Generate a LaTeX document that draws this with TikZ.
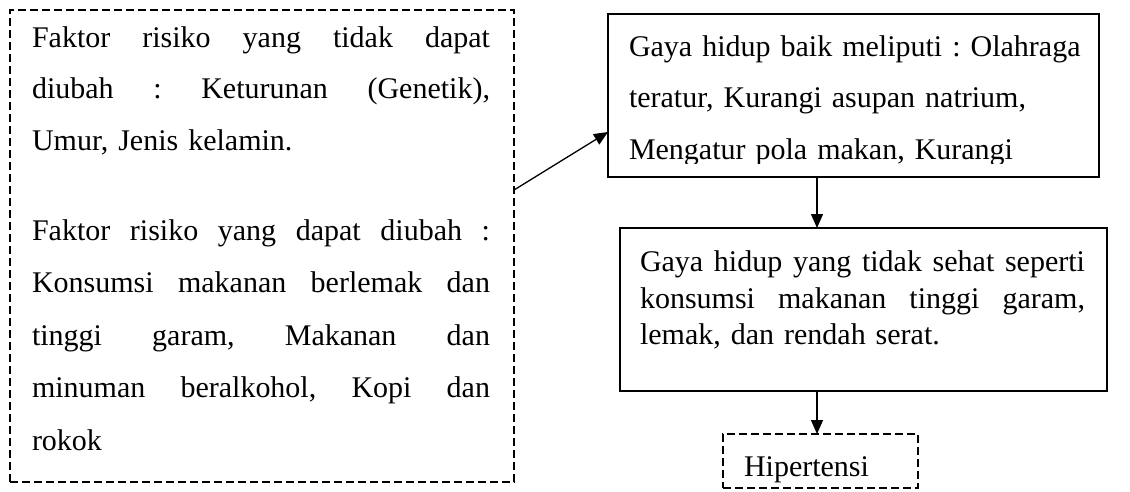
\documentclass[tikz,border=0pt]{standalone}
\usepackage{fontspec}
\setmainfont{Liberation Serif}
\usetikzlibrary{arrows.meta}
\newcommand{\jl}[2]{\makebox[#1][s]{\frenchspacing\spaceskip=\fontdimen2\font plus 1fil\relax #2}}
\newcommand{\fontA}{\fontsize{30}{52.5}\selectfont\parindent=0pt\frenchspacing}
\newcommand{\fontC}{\fontsize{30}{51.75}\selectfont\parindent=0pt\frenchspacing}
\newcommand{\fontB}{\fontsize{30}{36.5}\selectfont\parindent=0pt\frenchspacing}
\begin{document}
\frenchspacing
\begin{tikzpicture}[x=1pt,y=-1pt,
  dbox/.style={draw, dash pattern=on 8pt off 4pt, line width=2pt, inner sep=0pt, outer sep=0pt, anchor=north west},
  sbox/.style={draw, line width=2.5pt, inner sep=0pt, outer sep=0pt, anchor=north west},
  txt/.style={inner sep=0pt, outer sep=0pt, anchor=base west, align=left},
  arr/.style={line width=1.3pt, -{Triangle[length=14pt,width=12pt]}}]
\useasboundingbox (0,0) rectangle (1130,491);

% boxes
\node[dbox, minimum width=504pt, minimum height=472pt] (b1) at (10,10) {};
\node[sbox, minimum width=491pt, minimum height=163pt] (b2) at (608,14) {};
\node[sbox, minimum width=487pt, minimum height=163pt] (b3) at (620,228) {};
\node[dbox, minimum width=195pt, minimum height=54pt] (b4) at (723,434) {};

% left box text
\node[txt, text width=458pt, font=\fontC] (t1) at (32,47) {%
\jl{458pt}{Faktor risiko yang tidak dapat}\\
\jl{458pt}{diubah : Keturunan (Genetik),}\\
Umur, Jenis kelamin.};
\node[txt, text width=458pt, font=\fontA] (t2) at (32,240) {%
\jl{458pt}{Faktor risiko yang dapat diubah :}\\
\jl{458pt}{Konsumsi makanan berlemak dan}\\
\jl{458pt}{tinggi garam, Makanan dan}\\
\jl{458pt}{minuman beralkohol, Kopi dan}\\
rokok};

% box 2 text (clipped)
\begin{scope}
\clip (608,14) rectangle (1099,163.5);
\node[txt, text width=460pt, font=\fontC] (t3) at (629,56) {%
Gaya hidup baik meliputi : Olahraga\\
teratur, Kurangi asupan natrium,\\
Mengatur pola makan, Kurangi};
\end{scope}

% box 3 text
\node[txt, text width=445pt, font=\fontB] (t4) at (640,271.5) {%
\jl{445pt}{Gaya hidup yang tidak sehat seperti}\\
\jl{445pt}{konsumsi makanan tinggi garam,}\\
lemak, dan rendah serat.};

% box 4 text
\node[txt, font=\fontA] (t5) at (744,476) {Hipertensi};

% connectors
\coordinate (ax) at (817,0);
\coordinate (a1s) at ([yshift=-180pt]b1.north east);
\coordinate (a1e) at ([yshift=-118pt]b2.north west);
\draw[arr] (a1s) -- (a1e);
\draw[arr] (b2.south -| ax) -- (b3.north -| ax);
\draw[arr] (b3.south -| ax) -- (b4.north -| ax);
\end{tikzpicture}
\end{document}
